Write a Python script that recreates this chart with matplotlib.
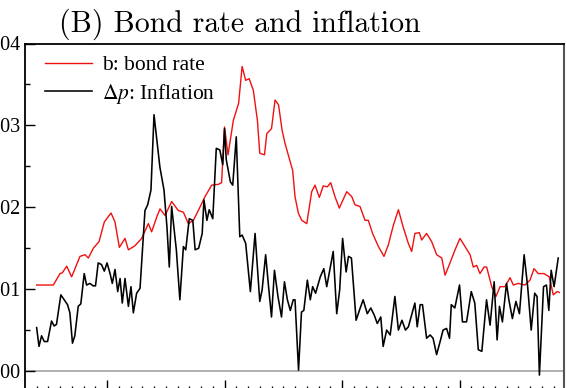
import matplotlib
matplotlib.use("Agg")
import matplotlib.pyplot as plt
from matplotlib.ticker import MultipleLocator, FormatStrFormatter

# bond rate b (year / value)
bond_years = [1964.01, 1965.43, 1966.0, 1966.2, 1966.57, 1966.99, 1967.7, 1968.13, 1968.41, 1968.84,
              1969.32, 1969.77, 1970.34, 1970.68, 1971.05, 1971.53, 1971.82, 1972.38, 1972.95, 1973.52,
              1973.8, 1974.23, 1974.51, 1974.94, 1975.5, 1976.07, 1976.5, 1976.92, 1977.35, 1977.77,
              1978.34, 1978.91, 1979.48, 1979.75, 1980.0, 1980.3, 1980.75, 1981.2, 1981.5, 1981.8,
              1982.1, 1982.45, 1982.8, 1983.0, 1983.4, 1983.6, 1984.0, 1984.3, 1984.6, 1984.9,
              1985.15, 1985.8, 1986.0, 1986.28, 1986.57, 1987.0, 1987.42, 1987.7, 1988.07, 1988.4,
              1988.75, 1989.04, 1989.4, 1989.77, 1990.4, 1990.83, 1991.1, 1991.53, 1991.96, 1992.24,
              1992.6, 1993.1, 1993.57, 1993.94, 1994.37, 1994.8, 1995.2, 1995.64, 1995.93, 1996.2,
              1996.58, 1996.78, 1997.2, 1997.63, 1998.06, 1998.49, 1998.77, 1999.19, 1999.62, 2000.04,
              2000.47, 2000.9, 2001.17, 2001.46, 2001.74, 2002.09, 2002.31, 2002.74, 2003.1, 2003.45,
              2003.87, 2004.3, 2004.58, 2005.0, 2005.57, 2006.0, 2006.34, 2006.7, 2007.19, 2007.64,
              2007.98, 2008.32, 2008.49]
bond_rate = [0.0105, 0.0105, 0.0119, 0.0120, 0.0128, 0.0115, 0.0140, 0.0142, 0.0138, 0.0150,
             0.0158, 0.0182, 0.0193, 0.0182, 0.0151, 0.0162, 0.0148, 0.0153, 0.0162, 0.0180,
             0.0170, 0.0188, 0.0198, 0.0190, 0.0207, 0.0196, 0.0194, 0.0180, 0.0184, 0.0196,
             0.0213, 0.0227, 0.0228, 0.0230, 0.0298, 0.0264, 0.0306, 0.0327, 0.0372, 0.0355,
             0.0357, 0.0343, 0.0306, 0.0266, 0.0264, 0.0290, 0.0296, 0.0331, 0.0325, 0.0294,
             0.0278, 0.0245, 0.0213, 0.0193, 0.0184, 0.0180, 0.0219, 0.0227, 0.0212, 0.0226,
             0.0225, 0.0230, 0.0213, 0.0199, 0.0219, 0.0213, 0.0203, 0.0201, 0.0184, 0.0184,
             0.0168, 0.0152, 0.0140, 0.0154, 0.0178, 0.0197, 0.0176, 0.0156, 0.0146, 0.0168,
             0.0169, 0.0160, 0.0168, 0.0158, 0.0142, 0.0138, 0.0117, 0.0132, 0.0148, 0.0162,
             0.0152, 0.0142, 0.0127, 0.0129, 0.0119, 0.0127, 0.0127, 0.0103, 0.0091, 0.0103,
             0.0103, 0.0114, 0.0105, 0.0107, 0.0105, 0.0111, 0.0125, 0.0119, 0.0119, 0.0115,
             0.0093, 0.0097, 0.0096]

# inflation dp
infl_years = [1964.01, 1964.21, 1964.43, 1964.66, 1964.94, 1965.28, 1965.5, 1965.7, 1966.07, 1966.35,
              1966.64, 1966.84, 1967.06, 1967.26, 1967.55, 1967.77, 1968.06, 1968.26, 1968.54, 1968.82,
              1969.02, 1969.25, 1969.53, 1969.77, 1970.0, 1970.26, 1970.45, 1970.68, 1970.91, 1971.11,
              1971.3, 1971.53, 1971.82, 1972.04, 1972.24, 1972.52, 1972.81, 1973.23, 1973.46, 1973.74,
              1974.0, 1974.5, 1974.85, 1975.1, 1975.3, 1975.5, 1975.9, 1976.2, 1976.5, 1976.7,
              1977.0, 1977.3, 1977.5, 1977.8, 1978.1, 1978.25, 1978.5, 1978.7, 1979.0, 1979.3,
              1979.6, 1979.85, 1980.0, 1980.15, 1980.5, 1980.7, 1981.0, 1981.3, 1981.5, 1981.8,
              1982.2, 1982.6, 1983.0, 1983.2, 1983.5, 1983.75, 1984.0, 1984.25, 1984.55, 1984.85,
              1985.1, 1985.35, 1985.6, 1985.85, 1986.0, 1986.3, 1986.55, 1986.75, 1987.05, 1987.3,
              1987.5, 1987.75, 1988.15, 1988.45, 1988.7, 1989.25, 1989.55, 1989.8, 1990.05, 1990.35,
              1990.55, 1990.8, 1991.2, 1991.55, 1991.8, 1992.15, 1992.45, 1992.75, 1993.0, 1993.3,
              1993.5, 1993.8, 1994.1, 1994.5, 1994.8, 1995.1, 1995.4, 1995.65, 1995.95, 1996.2,
              1996.4, 1996.65, 1996.85, 1997.2, 1997.5, 1997.75, 1998.05, 1998.35, 1998.6, 1998.9,
              1999.15, 1999.3, 1999.6, 2000.0, 2000.25, 2000.6, 2001.0, 2001.3, 2001.6, 2001.9,
              2002.3, 2002.6, 2002.95, 2003.2, 2003.4, 2003.65, 2004.0, 2004.2, 2004.5, 2004.8,
              2005.1, 2005.5, 2005.8, 2006.1, 2006.4, 2006.6, 2006.8, 2007.15, 2007.4, 2007.6,
              2007.8, 2008.05, 2008.4]
inflation = [0.0053, 0.0030, 0.0043, 0.0036, 0.0036, 0.0061, 0.0055, 0.0057, 0.0093, 0.0087,
             0.0081, 0.0071, 0.0034, 0.0043, 0.0079, 0.0082, 0.0119, 0.0105, 0.0107, 0.0104,
             0.0104, 0.0132, 0.0130, 0.0122, 0.0132, 0.0119, 0.0107, 0.0124, 0.0097, 0.0113,
             0.0083, 0.0113, 0.0079, 0.0103, 0.0071, 0.0095, 0.0101, 0.0196, 0.0203, 0.0221,
             0.0313, 0.0249, 0.0221, 0.0176, 0.0127, 0.0201, 0.0148, 0.0087, 0.0152, 0.0148,
             0.0186, 0.0184, 0.0148, 0.0150, 0.0168, 0.0209, 0.0184, 0.0197, 0.0186, 0.0272,
             0.0270, 0.0252, 0.0296, 0.0258, 0.0231, 0.0227, 0.0286, 0.0164, 0.0166, 0.0156,
             0.0097, 0.0168, 0.0085, 0.0099, 0.0142, 0.0103, 0.0066, 0.0123, 0.0091, 0.0066,
             0.0109, 0.0087, 0.0074, 0.0087, 0.0087, 0.0001, 0.0072, 0.0074, 0.0111, 0.0087,
             0.0103, 0.0095, 0.0115, 0.0125, 0.0103, 0.0146, 0.0070, 0.0099, 0.0162, 0.0121,
             0.0140, 0.0138, 0.0062, 0.0077, 0.0087, 0.0070, 0.0077, 0.0068, 0.0058, 0.0066,
             0.0030, 0.0050, 0.0044, 0.0091, 0.0050, 0.0062, 0.0050, 0.0054, 0.0070, 0.0083,
             0.0054, 0.0081, 0.0081, 0.0040, 0.0044, 0.0040, 0.0020, 0.0036, 0.0050, 0.0052,
             0.0040, 0.0081, 0.0077, 0.0105, 0.0060, 0.0060, 0.0097, 0.0083, 0.0026, 0.0024,
             0.0087, 0.0056, 0.0109, 0.0038, 0.0079, 0.0060, 0.0107, 0.0087, 0.0064, 0.0085,
             0.0070, 0.0142, 0.0103, 0.0050, 0.0095, 0.0091, -0.0005, 0.0103, 0.0105, 0.0074,
             0.0123, 0.0103, 0.0138]

y_ticks = [0.00, 0.01, 0.02, 0.03, 0.04]

plt.rcParams['font.family'] = ['Liberation Serif', 'DejaVu Serif']
plt.rcParams['mathtext.fontset'] = 'stix'

W, H = 567, 388
fig = plt.figure(figsize=(W / 100, H / 100), dpi=100)
# axes box in pixels: left 25, right 563.5, top 43.5, bottom just under the edge
ax = fig.add_axes([25 / W, -2 / H, 538.5 / W, 346.5 / H])

ax.axhline(0, color='#aaaaaa', lw=1.3, zorder=1)
ax.plot(bond_years, bond_rate, color='#f01010', lw=1.0, label='b: bond rate', zorder=2)
ax.plot(infl_years, inflation, color='black', lw=1.15, label=r'$\Delta p$: Inflation', zorder=3)

ax.set_xlim(1963.02, 2008.85)
ax.set_ylim(-0.00232, 0.04)

ax.set_yticks(y_ticks)
ax.yaxis.set_minor_locator(MultipleLocator(0.005))
ax.yaxis.set_major_formatter(FormatStrFormatter('%.2f'))
ax.xaxis.set_major_locator(MultipleLocator(10))
ax.xaxis.set_minor_locator(MultipleLocator(1))

ax.tick_params(axis='y', which='major', direction='in', length=7, width=1.0,
               labelsize=14.5, pad=3.6)
ax.tick_params(axis='y', which='minor', direction='in', length=3.5, width=1.0)
ax.tick_params(axis='x', which='major', direction='in', length=7.5, width=1.0, labelbottom=False)
ax.tick_params(axis='x', which='minor', direction='in', length=3.2, width=0.9)

for side in ['left', 'top']:
    ax.spines[side].set_linewidth(1.3)
ax.spines['right'].set_linewidth(1.5)
ax.spines['right'].set_color('#555555')
ax.spines['bottom'].set_visible(False)

ax.legend(loc='upper left', bbox_to_anchor=(45 / W, 1 - 55 / H), bbox_transform=fig.transFigure,
          frameon=False, fontsize=15.5, handlelength=2.2, handletextpad=0.45,
          labelspacing=0.3, borderpad=0, borderaxespad=0)

fig.text(239.5 / W, 1 - 32 / H, '(B) Bond rate and inflation', family='cmr10',
         fontsize=21.5, ha='center', va='baseline')

fig.savefig('out.png', dpi=100)
